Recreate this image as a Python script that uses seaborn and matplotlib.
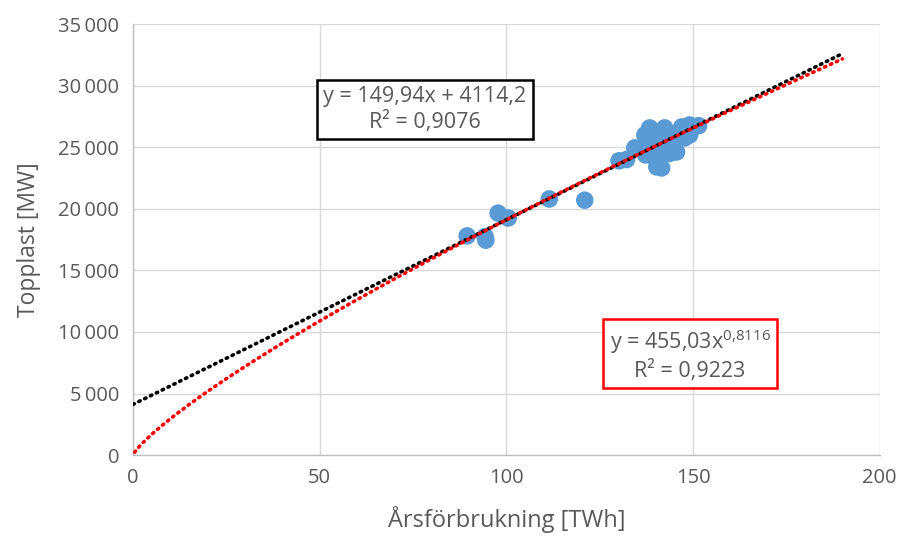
import numpy as np
import pandas as pd
import matplotlib
matplotlib.use("Agg")
import matplotlib.pyplot as plt
import seaborn as sns
from matplotlib.ticker import FuncFormatter

# Annual consumption [TWh] and peak load [MW]
arsforbrukning = [89.5, 94.3, 94.5, 97.8, 100.5, 111.5, 121.0, 130.2, 132.2, 134.4,
                  137.1, 138.4, 138.4, 139.2, 139.8, 137.3, 140.3, 141.6, 141.1, 142.4,
                  143.4, 144.6, 145.6, 145.6, 147.0, 147.8, 149.1, 149.1, 151.5, 140.8,
                  142.8, 143.8, 146.2]
topplast = [17800, 17750, 17450, 19650, 19250, 20800, 20700, 23900, 24000, 24950,
            26000, 26570, 25430, 24780, 24130, 24375, 23400, 23320, 26000, 26570,
            25600, 25350, 24620, 26160, 26650, 25760, 26810, 26000, 26750, 25000,
            25200, 24500, 25900]

# Trend line coefficients
lin_k, lin_m, lin_r2 = 149.94, 4114.2, "0,9076"
pow_a, pow_b, pow_r2 = 455.03, 0.8116, "0,9223"

x_ticks = [0, 50, 100, 150, 200]
y_ticks = [0, 5000, 10000, 15000, 20000, 25000, 30000, 35000]

sns.set_theme(style="whitegrid")
plt.rcParams["font.family"] = ["Open Sans", "DejaVu Sans"]
plt.rcParams["mathtext.fontset"] = "custom"
plt.rcParams["mathtext.rm"] = "Open Sans"

fig = plt.figure(figsize=(9.05, 5.36), dpi=100)
ax = fig.add_axes([0.147, 0.151, 0.825, 0.804])

df = pd.DataFrame({"x": arsforbrukning, "y": topplast})
sns.scatterplot(data=df, x="x", y="y", ax=ax, s=160, color="#5B9BD5",
                edgecolor="none", linewidth=0, zorder=3)

xt = np.linspace(0, 190, 400)
ax.plot(xt, lin_k * xt + lin_m, color="black", lw=2.6,
        linestyle=(0, (0.4, 1.4)), dash_capstyle="round", zorder=4)
ax.plot(xt, pow_a * xt ** pow_b, color="#FF0000", lw=2.6,
        linestyle=(0.9, (0.4, 1.4)), dash_capstyle="round", zorder=5)

ax.set_xlim(0, 200)
ax.set_ylim(0, 35000)
ax.set_xticks(x_ticks)
ax.set_yticks(y_ticks)
ax.yaxis.set_major_formatter(FuncFormatter(lambda v, p: f"{int(v):,}".replace(",", "\u2009")))
ax.tick_params(axis="both", labelsize=14.5, colors="#595959", length=0)
ax.tick_params(axis="x", pad=9)
ax.tick_params(axis="y", pad=10)
ax.grid(True, color="#D9D9D9", lw=1)
for s in ["top", "right"]:
    ax.spines[s].set_visible(False)
for s in ["left", "bottom"]:
    ax.spines[s].set_color("#BFBFBF")
    ax.spines[s].set_linewidth(1)

ax.set_xlabel("Årsförbrukning [TWh]", fontsize=17, color="#595959", labelpad=13)
ax.set_ylabel("Topplast [MW]", fontsize=16.5, color="#595959", labelpad=12)

ax.text(78.2, 28050, f"y = {str(lin_k).replace('.', ',')}x + {str(lin_m).replace('.', ',')}\nR² = {lin_r2}",
        ha="center", va="center", fontsize=15.5, color="#595959", linespacing=1.2,
        bbox=dict(boxstyle="square,pad=0.3", fc="white", ec="black", lw=1.8), zorder=6)
ax.text(149.2, 8150, "y = " + str(pow_a).replace(".", ",") + "x$^{0{,}8116}$\nR² = " + pow_r2,
        ha="center", va="center", fontsize=15.5, color="#595959", linespacing=1.2,
        bbox=dict(boxstyle="square,pad=0.3", fc="white", ec="#FF0000", lw=1.8), zorder=6)

fig.savefig("out.png", dpi=100)
